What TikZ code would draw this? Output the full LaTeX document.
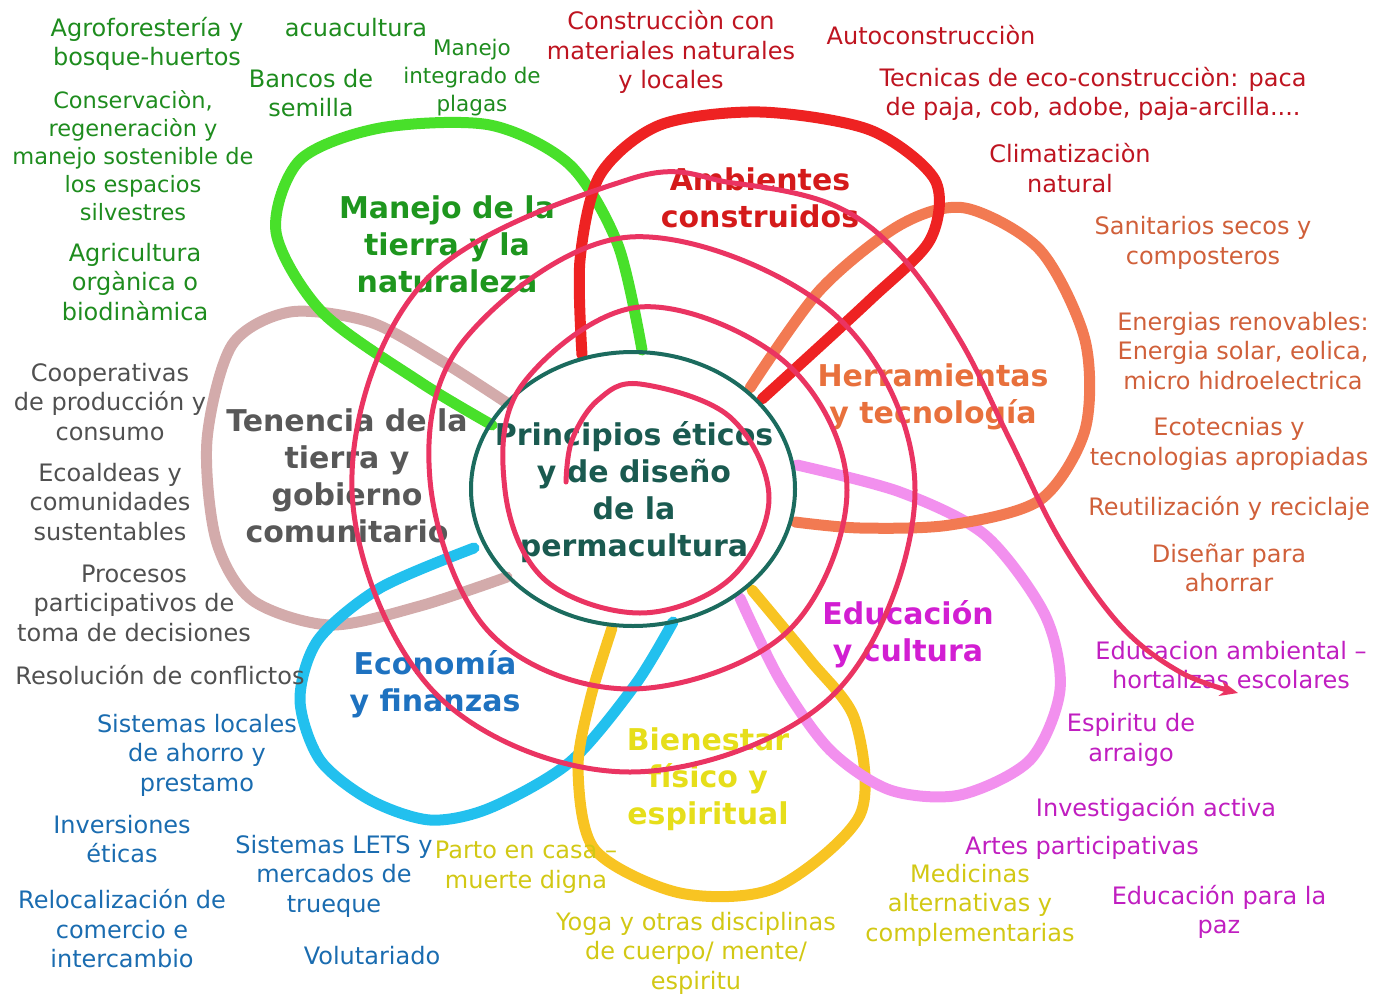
\documentclass[tikz,border=0pt]{standalone}
\usepackage{fontspec}
\setmainfont{DejaVu Sans}
\usetikzlibrary{arrows.meta}

\definecolor{verde}{HTML}{48E02A}
\definecolor{verdetxt}{HTML}{1E8C1E}
\definecolor{verdebig}{HTML}{1E961E}
\definecolor{rojo}{HTML}{EE2222}
\definecolor{rojotxt}{HTML}{BE1420}
\definecolor{rojobig}{HTML}{D41A1A}
\definecolor{naranja}{HTML}{F27A52}
\definecolor{naranjatxt}{HTML}{D0603A}
\definecolor{naranjabig}{HTML}{E8703C}
\definecolor{rosa}{HTML}{F290EE}
\definecolor{rosatxt}{HTML}{C01EC0}
\definecolor{rosabig}{HTML}{D21ED2}
\definecolor{amarillo}{HTML}{F8C422}
\definecolor{amarillotxt}{HTML}{D2C814}
\definecolor{amarillobig}{HTML}{E6DE1A}
\definecolor{azul}{HTML}{22C0EE}
\definecolor{azultxt}{HTML}{1A6CB0}
\definecolor{azulbig}{HTML}{1E72C0}
\definecolor{gris}{HTML}{D3ABAB}
\definecolor{gristxt}{HTML}{505050}
\definecolor{grisbig}{HTML}{585858}
\definecolor{centro}{HTML}{1B6B5E}
\definecolor{centrotxt}{HTML}{1A5A50}
\definecolor{espiral}{HTML}{EA3462}

\tikzset{
  lazo/.style={line width=11pt, line cap=round, line join=round},
  espira/.style={line width=5pt, color=espiral, line cap=round},
  chico/.style={align=center, inner sep=0pt, font=\fontsize{24}{29.5}\selectfont},
  grande/.style={align=center, inner sep=0pt, font=\bfseries\fontsize{30}{37}\selectfont},
}

\begin{document}
\begin{tikzpicture}[x=1pt,y=-1pt]
		\useasboundingbox (0,0) rectangle (1377,996);
		%%%%% START %%%%%
		
		% petalos
		\draw[lazo, color=gris] plot[smooth] coordinates {(507,403) (440,360) (370,322) (290,312) (232,345) (207,440) (216,540) (252,600) (330,625) (420,606) (507,577)};
		\draw[lazo, color=verde] plot[smooth] coordinates {(492,425) (420,382) (322,312) (276,232) (300,160) (380,128) (490,125) (570,165) (618,245) (642,350)};
		\draw[lazo, color=azul] plot[smooth] coordinates {(474,548) (380,588) (318,640) (300,700) (320,760) (370,800) (430,820) (490,808) (570,762) (635,685) (673,622)};
		\draw[lazo, color=amarillo] plot[smooth] coordinates {(612,628) (590,700) (578,770) (595,850) (680,893) (775,888) (860,815) (855,720) (810,660) (752,590)};
		\draw[lazo, color=rosa] plot[smooth] coordinates {(797,465) (900,492) (985,535) (1045,615) (1060,690) (1030,760) (960,795) (890,790) (830,750) (780,680) (740,598)};
		\draw[lazo, color=naranja] plot[smooth] coordinates {(750,388) (820,290) (900,225) (965,208) (1040,250) (1085,340) (1085,430) (1040,500) (950,525) (860,528) (795,522)};
		\draw[lazo, color=rojo] plot[smooth] coordinates {(582,355) (580,260) (600,175) (660,125) (760,112) (870,130) (935,180) (930,240) (870,300) (762,399)};
		
		% centro
		\draw[line width=4pt, color=centro] (633,489) ellipse (162 and 137);
		
		% textos grandes
		\node[grande, text=verdebig] (tierra) at (447,244) {Manejo de la\\tierra y la\\naturaleza};
		\node[grande, text=rojobig] (ambientes) at (760,198) {Ambientes\\construidos};
		\node[grande, text=naranjabig] (herramientas) at (933,397) {Herramientas\\y tecnología};
		\node[grande, text=grisbig] (tenencia) at (347,476) {Tenencia de la\\tierra y\\gobierno\\comunitario};
		\node[grande, text=centrotxt] (principios) at (634,492) {Principios éticos\\y de diseño\\de la\\permacultura};
		\node[grande, text=azulbig] (economia) at (435,684) {Economía\\y finanzas};
		\node[grande, text=rosabig] (educacion) at (908,634) {Educación\\y cultura};
		\node[grande, text=amarillobig] (bienestar) at (708,779) {Bienestar\\físico y\\espiritual};
		
		% verde
		\node[chico, text=verdetxt] (agro) at (147,44) {Agroforestería y\\bosque-huertos};
		\node[chico, text=verdetxt] (acua) at (356,28) {acuacultura};
		\node[chico, text=verdetxt] (bancos) at (311,93) {Bancos de\\semilla};
		\node[chico, text=verdetxt, font=\fontsize{21.5}{28}\selectfont] (plagas) at (472,78) {Manejo\\integrado de\\plagas};
		\node[chico, text=verdetxt, font=\fontsize{22.5}{28}\selectfont] (conserva) at (133,156) {Conservaciòn,\\regeneraciòn y\\manejo sostenible de\\los espacios\\silvestres};
		\node[chico, text=verdetxt] (agricultura) at (135,282) {Agricultura\\orgànica o\\biodinàmica};
		
		% rojo
		\node[chico, text=rojotxt] (materiales) at (671,52) {Construcciòn con\\materiales naturales\\y locales};
		\node[chico, text=rojotxt] (auto) at (931,35) {Autoconstrucciòn};
		\node[chico, text=rojotxt] (tecnicas) at (1093,94) {Tecnicas de eco-construcciòn: paca\\de paja, cob, adobe, paja-arcilla....};
		\node[chico, text=rojotxt] (clima) at (1070,168) {Climatizaciòn\\natural};
		
		% naranja
		\node[chico, text=naranjatxt] (sanitarios) at (1203,243) {Sanitarios secos y\\composteros};
		\node[chico, text=naranjatxt] (energias) at (1243,351) {Energias renovables:\\Energia solar, eolica,\\micro hidroelectrica};
		\node[chico, text=naranjatxt] (ecotec) at (1229,444) {Ecotecnias y\\tecnologias apropiadas};
		\node[chico, text=naranjatxt] (reuso) at (1229,508) {Reutilización y reciclaje};
		\node[chico, text=naranjatxt] (ahorrar) at (1229,568) {Diseñar para\\ahorrar};
		
		% rosa
		\node[chico, text=rosatxt] (ambiental) at (1231,665) {Educacion ambiental –\\hortalizas escolares};
		\node[chico, text=rosatxt] (arraigo) at (1131,740) {Espiritu de\\arraigo};
		\node[chico, text=rosatxt] (investiga) at (1156,809) {Investigación activa};
		\node[chico, text=rosatxt] (artes) at (1082,848) {Artes participativas};
		\node[chico, text=rosatxt] (paz) at (1219,912) {Educación para la\\paz};
		
		% amarillo
		\node[chico, text=amarillotxt] (medicinas) at (970,905) {Medicinas\\alternativas y\\complementarias};
		\node[chico, text=amarillotxt] (parto) at (526,867) {Parto en casa –\\muerte digna};
		\node[chico, text=amarillotxt] (yoga) at (696,953) {Yoga y otras disciplinas\\de cuerpo/ mente/\\espiritu};
		
		% azul
		\node[chico, text=azultxt] (ahorro) at (197,755) {Sistemas locales\\de ahorro y\\prestamo};
		\node[chico, text=azultxt] (inversiones) at (122,839) {Inversiones\\éticas};
		\node[chico, text=azultxt] (reloc) at (122,929) {Relocalización de\\comercio e\\intercambio};
		\node[chico, text=azultxt] (lets) at (334,876) {Sistemas LETS y\\mercados de\\trueque};
		\node[chico, text=azultxt] (volunt) at (372,956) {Volutariado};
		
		% gris
		\node[chico, text=gristxt] (coop) at (110,402) {Cooperativas\\de producción y\\consumo};
		\node[chico, text=gristxt] (ecoaldeas) at (110,502) {Ecoaldeas y\\comunidades\\sustentables};
		\node[chico, text=gristxt] (procesos) at (134,603) {Procesos\\participativos de\\toma de decisiones};
		\node[chico, text=gristxt] (conflictos) at (160,675) {Resolución de conflictos};
		
		% espiral
		\draw[espira, -{Stealth[length=18pt, width=15pt]}] plot[smooth, tension=0.6] coordinates {(566,482) (572,440) (598,400) (640,384) (730,417) (769,498) (730,579) (640,613) (544,579) (505,490) (522,385) (640,307) (786,363) (847,490) (786,633) (630,689) (490,633) (430,480) (465,339) (630,237) (834,314) (915,490) (834,694) (630,772) (436,694) (352,490) (423,283) (630,179) (733,183) (833,205) (900,255) (960,340) (1010,440) (1060,540) (1120,625) (1180,672) (1238,693)};
		
		%%%%% END %%%%%
\end{tikzpicture}
\end{document}
